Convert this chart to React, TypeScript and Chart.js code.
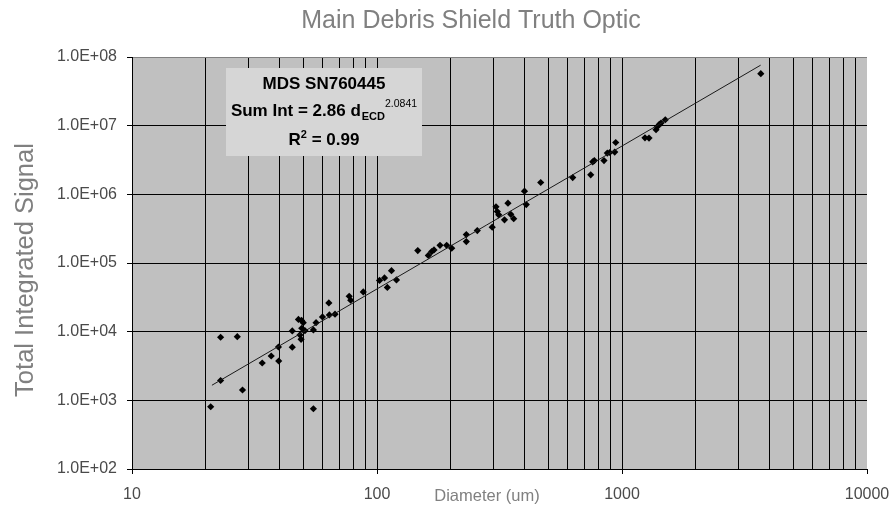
import React, { useEffect, useRef } from 'react';
import { Chart, registerables } from 'chart.js';

Chart.register(...registerables);

// ---- Data ----
const diameterUm: number[] = [
  20.95, 23.0, 26.9, 23.0, 28.25, 34.0, 37.0, 39.6, 39.7, 45.1,
  45.1, 47.8, 49.2, 50.0, 48.5, 49.0, 50.8, 55.0, 55.0, 49.3,
  56.4, 59.9, 63.9, 67.4, 63.6, 77.0, 78.1, 87.9, 102.4, 107.3,
  114.6, 120.1, 110.2, 146.7, 162.0, 167.2, 170.9, 180.8, 192.5, 201.8,
  231.5, 231.5, 256.7, 295.3, 306.0, 309.8, 313.9, 342.4, 331.4, 351.6,
  361.4, 399.9, 406.8, 465.8, 629.2, 745.2, 759.4, 770.9, 844.3, 871.0,
  891.0, 933.9, 942.6, 1241, 1289, 1377, 1394, 1420, 1443, 1502,
  3686,
];
const totalSignal: number[] = [
  807, 8286, 8454, 1944, 1413, 3497, 4424, 5984, 3741, 5944,
  10237, 15060, 14566, 13528, 8952, 7748, 10342, 10588, 754, 11209,
  13528, 16380, 17517, 17993, 26204, 32810, 28690, 37899, 55780, 60640,
  77230, 56710, 44100, 151600, 129100, 146600, 155200, 180600, 180600, 164300,
  259400, 205100, 296700, 332600, 657400, 561500, 502800, 744200, 425100, 511000,
  442300, 1113000, 710000, 1486000, 1752000, 1924000, 2977000, 3099000, 3099000, 3988000,
  4068000, 4124000, 5690000, 6662000, 6595000, 8714000, 9638000, 10410000, 10910000, 12190000,
  57080000,
];
const trendDiameter: number[] = [21.2, 3680];
const trendSignal: number[] = [1660, 7.6e7];

const xDecades: number[] = [10, 100, 1000];
const xMinorSteps: number[] = [1, 2, 3, 4, 5, 6, 7, 8, 9];
const xLastTick = 10000;
const yTickValues: number[] = [1e2, 1e3, 1e4, 1e5, 1e6, 1e7, 1e8];

const titleText = 'Main Debris Shield Truth Optic';
const yTitleText = 'Total Integrated Signal';
const xTitleText = 'Diameter (um)';
const boxLine1 = 'MDS SN760445';
const boxLine2Main = 'Sum Int = 2.86 d';
const boxLine2Sub = 'ECD';
const boxLine2Sup = '2.0841';
const boxLine3R = 'R';
const boxLine3Sup = '2';
const boxLine3Rest = ' = 0.99';

const FONT = '"Liberation Sans", Arial, sans-serif';

const isPow10 = (v: number) => {
  const l = Math.log10(v);
  return Math.abs(l - Math.round(l)) < 1e-9;
};

const xTickValues: number[] = [];
xDecades.forEach((d) => xMinorSteps.forEach((m) => xTickValues.push(d * m)));
xTickValues.push(xLastTick);

const decorPlugin = {
  id: 'decor',
  beforeDraw(chart: any) {
    const { ctx, chartArea: a } = chart;
    ctx.save();
    ctx.fillStyle = '#c0c0c0';
    ctx.fillRect(a.left, a.top, a.right - a.left, a.bottom - a.top);
    ctx.restore();
  },
  afterDraw(chart: any) {
    const { ctx, chartArea: a } = chart;
    ctx.save();
    // main title
    ctx.fillStyle = '#808080';
    ctx.font = `25px ${FONT}`;
    ctx.textAlign = 'center';
    ctx.textBaseline = 'alphabetic';
    ctx.fillText(titleText, a.left + 339, a.top - 29);
    // x title (inline with tick labels)
    ctx.font = `16.5px ${FONT}`;
    ctx.fillText(xTitleText, a.left + 355, a.bottom + 32);
    // y title
    ctx.save();
    ctx.font = `25.5px ${FONT}`;
    ctx.translate(33, (a.top + a.bottom) / 2 + 7);
    ctx.rotate(-Math.PI / 2);
    ctx.fillText(yTitleText, 0, 0);
    ctx.restore();

    // annotation box
    const bx = a.left + 94;
    const by = a.top + 11;
    const bw = 196;
    const bh = 88;
    ctx.fillStyle = '#d6d6d6';
    ctx.fillRect(bx, by, bw, bh);
    const cx = bx + bw / 2;
    ctx.fillStyle = '#000000';
    ctx.textAlign = 'left';
    // line 1
    ctx.font = `bold 17px ${FONT}`;
    const w = ctx.measureText(boxLine1).width;
    ctx.fillText(boxLine1, cx - w / 2, by + 21);
    // line 2
    const mainFont = `bold 17px ${FONT}`;
    const subFont = `bold 11px ${FONT}`;
    const supFont = `10.5px ${FONT}`;
    ctx.font = mainFont;
    const w1 = ctx.measureText(boxLine2Main).width;
    ctx.font = subFont;
    const w2 = ctx.measureText(boxLine2Sub).width;
    ctx.font = supFont;
    const w3 = ctx.measureText(boxLine2Sup).width;
    let x = cx - (w1 + w2 + 1 + w3) / 2;
    const base2 = by + 48;
    ctx.font = mainFont;
    ctx.fillText(boxLine2Main, x, base2);
    x += w1 + 1;
    ctx.font = subFont;
    ctx.fillText(boxLine2Sub, x, base2 + 4);
    x += w2;
    ctx.font = supFont;
    ctx.fillText(boxLine2Sup, x, base2 - 9);
    // line 3
    const base3 = by + 77;
    ctx.font = mainFont;
    const r1 = ctx.measureText(boxLine3R).width;
    const r3 = ctx.measureText(boxLine3Rest).width;
    ctx.font = `bold 11px ${FONT}`;
    const r2 = ctx.measureText(boxLine3Sup).width;
    x = cx - (r1 + r2 + r3) / 2;
    ctx.font = mainFont;
    ctx.fillText(boxLine3R, x, base3);
    x += r1;
    ctx.font = `bold 11px ${FONT}`;
    ctx.fillText(boxLine3Sup, x, base3 - 7);
    x += r2;
    ctx.font = mainFont;
    ctx.fillText(boxLine3Rest, x, base3);
    ctx.restore();
  },
};

export default function App() {
  const canvasRef = useRef<HTMLCanvasElement | null>(null);

  useEffect(() => {
    document.body.style.margin = '0';
    const canvas = canvasRef.current;
    if (!canvas) return;
    const points = diameterUm.map((d, i) => ({ x: d, y: totalSignal[i] }));
    const trend = trendDiameter.map((d, i) => ({ x: d, y: trendSignal[i] }));

    const chart = new Chart(canvas, {
      type: 'scatter',
      data: {
        datasets: [
          {
            label: 'Trend',
            data: trend,
            showLine: true,
            borderColor: '#1a1a1a',
            borderWidth: 1,
            pointRadius: 0,
            fill: false,
          } as any,
          {
            label: 'MDS SN760445',
            data: points,
            pointStyle: 'rectRot',
            pointRadius: 3.6,
            pointBorderWidth: 0,
            backgroundColor: '#000000',
            borderColor: '#000000',
          } as any,
        ],
      },
      options: {
        responsive: false,
        animation: false,
        devicePixelRatio: 1,
        layout: { padding: { top: 57, right: 25, left: 0, bottom: 0 } },
        plugins: {
          legend: { display: false },
          title: { display: false },
          tooltip: { enabled: false },
        },
        scales: {
          x: {
            type: 'logarithmic',
            min: 10,
            max: 10000,
            afterBuildTicks: (scale: any) => {
              scale.ticks = xTickValues.map((v) => ({ value: v, major: isPow10(v) }));
            },
            afterFit: (scale: any) => {
              scale.height = 40;
              scale.paddingLeft = 0;
              scale.paddingRight = 0;
            },
            border: { display: true, color: '#000000', width: 1 },
            grid: {
              color: (c: any) => (c.tick && c.tick.value === xLastTick ? 'rgba(0,0,0,0)' : '#000000'),
              lineWidth: 1,
              drawTicks: true,
              tickLength: 5,
              tickColor: (c: any) => (c.tick && isPow10(c.tick.value) ? '#000000' : 'rgba(0,0,0,0)'),
            },
            ticks: {
              autoSkip: false,
              maxRotation: 0,
              minRotation: 0,
              padding: 11,
              color: '#4a4a4a',
              font: { family: FONT, size: 16 },
              callback: (v: any) => (isPow10(Number(v)) ? String(Number(v)) : ''),
            },
          },
          y: {
            type: 'logarithmic',
            min: 100,
            max: 1e8,
            afterBuildTicks: (scale: any) => {
              scale.ticks = yTickValues.map((v) => ({ value: v, major: true }));
            },
            afterFit: (scale: any) => {
              scale.width = 132;
              scale.paddingTop = 0;
              scale.paddingBottom = 0;
            },
            border: { display: true, color: '#000000', width: 1 },
            grid: {
              color: (c: any) => (c.tick && c.tick.value === 1e8 ? '#808080' : '#000000'),
              lineWidth: 1,
              drawTicks: true,
              tickLength: 5,
              tickColor: '#000000',
            },
            ticks: {
              autoSkip: false,
              padding: 10,
              color: '#4a4a4a',
              font: { family: FONT, size: 16 },
              callback: (v: any) => {
                const e = Math.round(Math.log10(Number(v)));
                return '1.0E+' + String(e).padStart(2, '0');
              },
            },
          },
        },
      },
      plugins: [decorPlugin],
    } as any);

    return () => {
      chart.destroy();
    };
  }, []);

  return (
    <div style={{ width: 892, height: 509, position: 'relative', background: '#ffffff' }}>
      <canvas ref={canvasRef} width={892} height={509} style={{ display: 'block' }} />
    </div>
  );
}
